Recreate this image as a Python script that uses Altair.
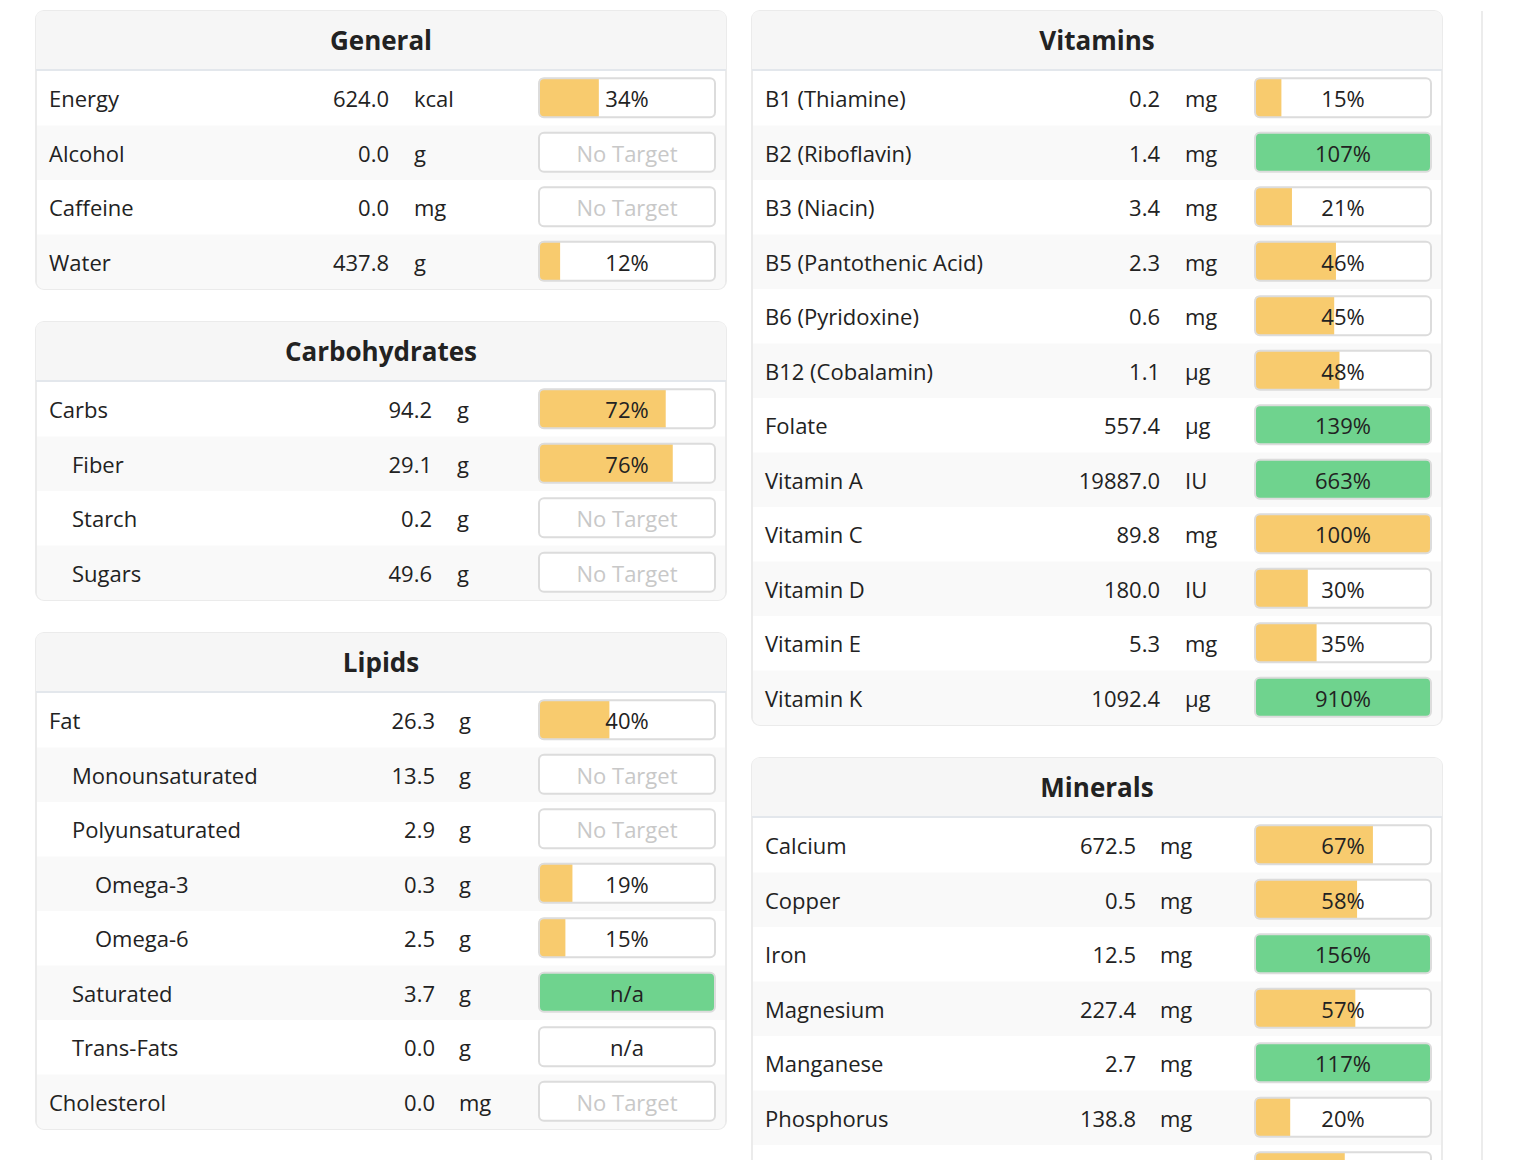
import altair as alt
import pandas as pd

FONT = "Open Sans"
TXT = "#222222"
GREY_TXT = "#c8c8c8"
YELLOW = "#f8cb6e"
GREEN = "#6fd38e"

# ---------------- data ----------------
gen_names = ["Energy", "Alcohol", "Caffeine", "Water"]
gen_indent = [0, 0, 0, 0]
gen_amount = [624.0, 0.0, 0.0, 437.8]
gen_unit = ["kcal", "g", "mg", "g"]
gen_pct = [34, None, None, 12]
gen_status = ["target", "none", "none", "target"]

carb_names = ["Carbs", "Fiber", "Starch", "Sugars"]
carb_indent = [0, 1, 1, 1]
carb_amount = [94.2, 29.1, 0.2, 49.6]
carb_unit = ["g", "g", "g", "g"]
carb_pct = [72, 76, None, None]
carb_status = ["target", "target", "none", "none"]

lip_names = ["Fat", "Monounsaturated", "Polyunsaturated", "Omega-3", "Omega-6",
             "Saturated", "Trans-Fats", "Cholesterol"]
lip_indent = [0, 1, 1, 2, 2, 1, 1, 0]
lip_amount = [26.3, 13.5, 2.9, 0.3, 2.5, 3.7, 0.0, 0.0]
lip_unit = ["g", "g", "g", "g", "g", "g", "g", "mg"]
lip_pct = [40, None, None, 19, 15, None, None, None]
lip_status = ["target", "none", "none", "target", "target", "na_met", "na", "none"]

vit_names = ["B1 (Thiamine)", "B2 (Riboflavin)", "B3 (Niacin)", "B5 (Pantothenic Acid)",
             "B6 (Pyridoxine)", "B12 (Cobalamin)", "Folate", "Vitamin A", "Vitamin C",
             "Vitamin D", "Vitamin E", "Vitamin K"]
vit_indent = [0] * 12
vit_amount = [0.2, 1.4, 3.4, 2.3, 0.6, 1.1, 557.4, 19887.0, 89.8, 180.0, 5.3, 1092.4]
vit_unit = ["mg", "mg", "mg", "mg", "mg", "µg", "µg", "IU", "mg", "IU", "mg", "µg"]
vit_pct = [15, 107, 21, 46, 45, 48, 139, 663, 100, 30, 35, 910]
vit_status = ["target"] * 12

# last row is only partly visible (its bar top); its text lies below the picture
min_names = ["Calcium", "Copper", "Iron", "Magnesium", "Manganese", "Phosphorus", ""]
min_indent = [0] * 7
min_amount = [672.5, 0.5, 12.5, 227.4, 2.7, 138.8, None]
min_unit = ["mg", "mg", "mg", "mg", "mg", "mg", ""]
min_pct = [67, 58, 156, 57, 117, 20, 51]
min_status = ["target"] * 7

# ---------------- layout ----------------
W = 690
HDR = 60
ROW = 54.5


def panel(title, names, indent, amount, unit, pct, status, val_x, unit_x):
    n = len(names)
    H = HDR + n * ROW
    rows = []
    for i in range(n):
        st = status[i]
        p = pct[i]
        top = HDR + i * ROW
        if st == "target":
            label = f"{p}%"
            fill = min(p, 100)
            color = GREEN if p > 100 else YELLOW
            lab_col = TXT
        elif st == "none":
            label, fill, color, lab_col = "No Target", 0, YELLOW, GREY_TXT
        elif st == "na_met":
            label, fill, color, lab_col = "n/a", 100, GREEN, TXT
        else:
            label, fill, color, lab_col = "n/a", 0, YELLOW, TXT
        am = amount[i]
        rows.append(dict(
            i=i, name=names[i], indent=indent[i],
            amount="" if am is None else f"{am:.1f}", unit=unit[i],
            label=label if names[i] else "", fill=fill, bar_color=color, lab_color=lab_col,
            top=top, bot=top + ROW, mid=top + ROW / 2,
            btop=top + 7.3, bbot=top + 46.3,
            zero=0, hundred=100, half=50,
            odd=i % 2, last=int(i == n - 1)))
    df = pd.DataFrame(rows)
    hdf = pd.DataFrame({"title": [title], "y0": [0], "y1": [HDR - 1], "ty": [HDR / 2 - 1]})

    ys = alt.Scale(domain=[0, H], reverse=True, nice=False, zero=False)
    xs = alt.Scale(domain=[0, 100], range=[503, 679], nice=False, zero=False)

    base = alt.Chart(df)
    hbase = alt.Chart(hdf)
    layers = []
    layers.append(hbase.mark_rect(fill="#f6f6f6", cornerRadiusTopLeft=7, cornerRadiusTopRight=7).encode(
        x=alt.value(0), x2=alt.value(W), y=alt.Y("y0:Q", scale=ys, axis=None), y2="y1:Q"))
    layers.append(hbase.mark_rule(stroke="#e3e7ec", strokeWidth=2).encode(
        x=alt.value(0), x2=alt.value(W), y=alt.Y("y1:Q", scale=ys, axis=None)))
    layers.append(hbase.mark_text(font=FONT, fontSize=26, fontWeight="bold", color=TXT,
                                  align="center", baseline="middle", dy=2).encode(
        x=alt.value(W / 2), y=alt.Y("ty:Q", scale=ys, axis=None), text="title:N"))
    layers.append(base.transform_filter("datum.odd == 1 && datum.last == 0").mark_rect(fill="#f9f9f9").encode(
        x=alt.value(1), x2=alt.value(W - 1), y=alt.Y("top:Q", scale=ys, axis=None), y2="bot:Q"))
    layers.append(base.transform_filter("datum.odd == 1 && datum.last == 1").mark_rect(
        fill="#f9f9f9", cornerRadiusBottomLeft=7, cornerRadiusBottomRight=7).encode(
        x=alt.value(1), x2=alt.value(W - 1), y=alt.Y("top:Q", scale=ys, axis=None), y2="bot:Q"))
    for lvl in sorted(set(indent)):
        layers.append(base.transform_filter(f"datum.indent == {lvl}").mark_text(
            font=FONT, fontSize=22, color=TXT, align="left", baseline="middle", dy=2).encode(
            x=alt.value(13 + 23 * lvl), y=alt.Y("mid:Q", scale=ys, axis=None), text="name:N"))
    layers.append(base.mark_text(font=FONT, fontSize=22, color=TXT, align="right", baseline="middle", dy=2).encode(
        x=alt.value(val_x), y=alt.Y("mid:Q", scale=ys, axis=None), text="amount:N"))
    layers.append(base.mark_text(font=FONT, fontSize=22, color=TXT, align="left", baseline="middle", dy=2).encode(
        x=alt.value(unit_x), y=alt.Y("mid:Q", scale=ys, axis=None), text="unit:N"))
    layers.append(base.mark_rect(fill="white", cornerRadius=5).encode(
        x=alt.X("zero:Q", scale=xs, axis=None), x2="hundred:Q",
        y=alt.Y("btop:Q", scale=ys, axis=None), y2="bbot:Q"))
    layers.append(base.transform_filter("datum.fill > 0 && datum.fill < 100").mark_rect(
        cornerRadiusTopLeft=3, cornerRadiusBottomLeft=3).encode(
        x=alt.X("zero:Q", scale=xs, axis=None), x2="fill:Q",
        y=alt.Y("btop:Q", scale=ys, axis=None), y2="bbot:Q",
        fill=alt.Fill("bar_color:N", scale=None)))
    layers.append(base.transform_filter("datum.fill >= 100").mark_rect(cornerRadius=4).encode(
        x=alt.X("zero:Q", scale=xs, axis=None), x2="fill:Q",
        y=alt.Y("btop:Q", scale=ys, axis=None), y2="bbot:Q",
        fill=alt.Fill("bar_color:N", scale=None)))
    layers.append(base.mark_rect(fill="white", fillOpacity=0, stroke="#dcdcdc", strokeWidth=2, cornerRadius=5).encode(
        x=alt.X("zero:Q", scale=xs, axis=None), x2="hundred:Q",
        y=alt.Y("btop:Q", scale=ys, axis=None), y2="bbot:Q"))
    layers.append(base.mark_text(font=FONT, fontSize=22, align="center", baseline="middle", dy=2).encode(
        x=alt.X("half:Q", scale=xs, axis=None), y=alt.Y("mid:Q", scale=ys, axis=None),
        text="label:N", color=alt.Color("lab_color:N", scale=None)))

    return alt.layer(*layers).properties(
        width=W, height=H,
        view=alt.ViewBackground(fill="white", stroke="#ebebeb", strokeWidth=2, cornerRadius=8))


gen = panel("General", gen_names, gen_indent, gen_amount, gen_unit, gen_pct, gen_status, 353, 378)
carb = panel("Carbohydrates", carb_names, carb_indent, carb_amount, carb_unit, carb_pct, carb_status, 396, 421)
lip = panel("Lipids", lip_names, lip_indent, lip_amount, lip_unit, lip_pct, lip_status, 399, 423)
vit = panel("Vitamins", vit_names, vit_indent, vit_amount, vit_unit, vit_pct, vit_status, 408, 433)
mins = panel("Minerals", min_names, min_indent, min_amount, min_unit, min_pct, min_status, 384, 408)

left = alt.vconcat(gen, carb, lip, spacing=31)
right = alt.vconcat(vit, mins, spacing=31)
main = alt.hconcat(left, right, spacing=22)

LINE_H = 1190
line = alt.Chart(pd.DataFrame({"a": [0]})).mark_rule(stroke="#ececec", strokeWidth=2).encode(
    x=alt.value(1), y=alt.value(0), y2=alt.value(LINE_H)).properties(width=2, height=LINE_H)

chart = alt.hconcat(main, line, spacing=37).properties(
    padding={"left": 26, "top": 2, "right": 5, "bottom": 5},
    background="white",
).configure_view(strokeWidth=0)

chart.save("out.html", embed_options={"renderer": "svg", "actions": False})
